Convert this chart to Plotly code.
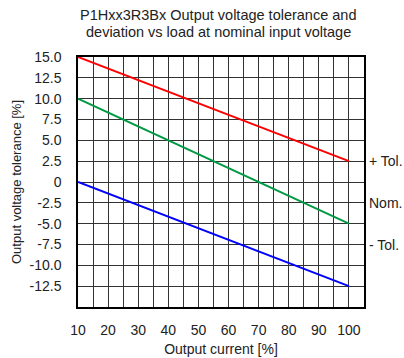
import plotly.graph_objects as go

current = [10, 100]
plus_tol = [15.0, 2.5]
nominal = [10.0, -5.0]
minus_tol = [0.0, -12.5]

x_ticks = [10, 20, 30, 40, 50, 60, 70, 80, 90, 100]
x_minor = [15, 25, 35, 45, 55, 65, 75, 85, 95]
y_ticks = [15.0, 12.5, 10.0, 7.5, 5.0, 2.5, 0, -2.5, -5.0, -7.5, -10.0, -12.5]
y_ticktext = ["15.0", "12.5", "10.0", "7.5", "5.0", "2.5", "0", "-2.5", "-5.0", "-7.5", "-10.0", "-12.5"]

side_labels = ["+ Tol.", "Nom.", "- Tol."]
side_label_y = [2.5, -2.5, -7.5]

title_lines = ["P1Hxx3R3Bx Output voltage tolerance and", "deviation vs load at nominal input voltage"]

font = "Liberation Sans, Arial, sans-serif"
txt = "#222"
margin_t, margin_b = 57, 51
plot_h = 358 - margin_t - margin_b

fig = go.Figure()
for ys, col in [(plus_tol, "#ff0000"), (nominal, "#009a44"), (minus_tol, "#0000ff")]:
    fig.add_trace(go.Scatter(x=current, y=ys, mode="lines",
                             line=dict(color=col, width=2), showlegend=False))

for t, yv in zip(side_labels, side_label_y):
    fig.add_annotation(x=1.0, xref="paper", y=yv, yref="y", text=t, showarrow=False,
                       xanchor="left", xshift=3, font=dict(size=14, color=txt, family=font))

# title lines: centres at ~15px and ~32px from the top of the figure
for line, ypx in zip(title_lines, [15, 32]):
    fig.add_annotation(x=0.49, xref="paper", y=1 + (margin_t - ypx) / plot_h, yref="paper",
                       yanchor="middle", showarrow=False, xanchor="center", text=line,
                       font=dict(size=14.5, color=txt, family=font))

fig.update_layout(
    width=404, height=358,
    margin=dict(l=78, r=40, t=margin_t, b=margin_b, autoexpand=False),
    paper_bgcolor="white", plot_bgcolor="white",
    font=dict(family=font, size=14, color=txt),
)

fig.update_xaxes(range=[10, 105], tickvals=x_ticks, showgrid=True, gridcolor="#333", gridwidth=1,
                 minor=dict(tickvals=x_minor, showgrid=True, gridcolor="#333", gridwidth=1),
                 showline=True, linecolor="black", linewidth=1.5, mirror=True, zeroline=False,
                 ticklabelstandoff=9, automargin=False, tickfont=dict(size=14),
                 title=dict(text="Output current [%]", standoff=8, font=dict(size=14)))
fig.update_yaxes(range=[-15, 15], tickvals=y_ticks, ticktext=y_ticktext, showgrid=True, gridcolor="#333", gridwidth=1,
                 showline=True, linecolor="black", linewidth=1.5, mirror=True, zeroline=False,
                 ticklabelstandoff=12, automargin=False, tickfont=dict(size=14),
                 title=dict(text="Output voltage tolerance [%]", standoff=5, font=dict(size=13)))

fig.write_html("out.html", config={"displayModeBar": False},
               post_script="document.body.style.margin='0';document.body.style.overflow='hidden';")
